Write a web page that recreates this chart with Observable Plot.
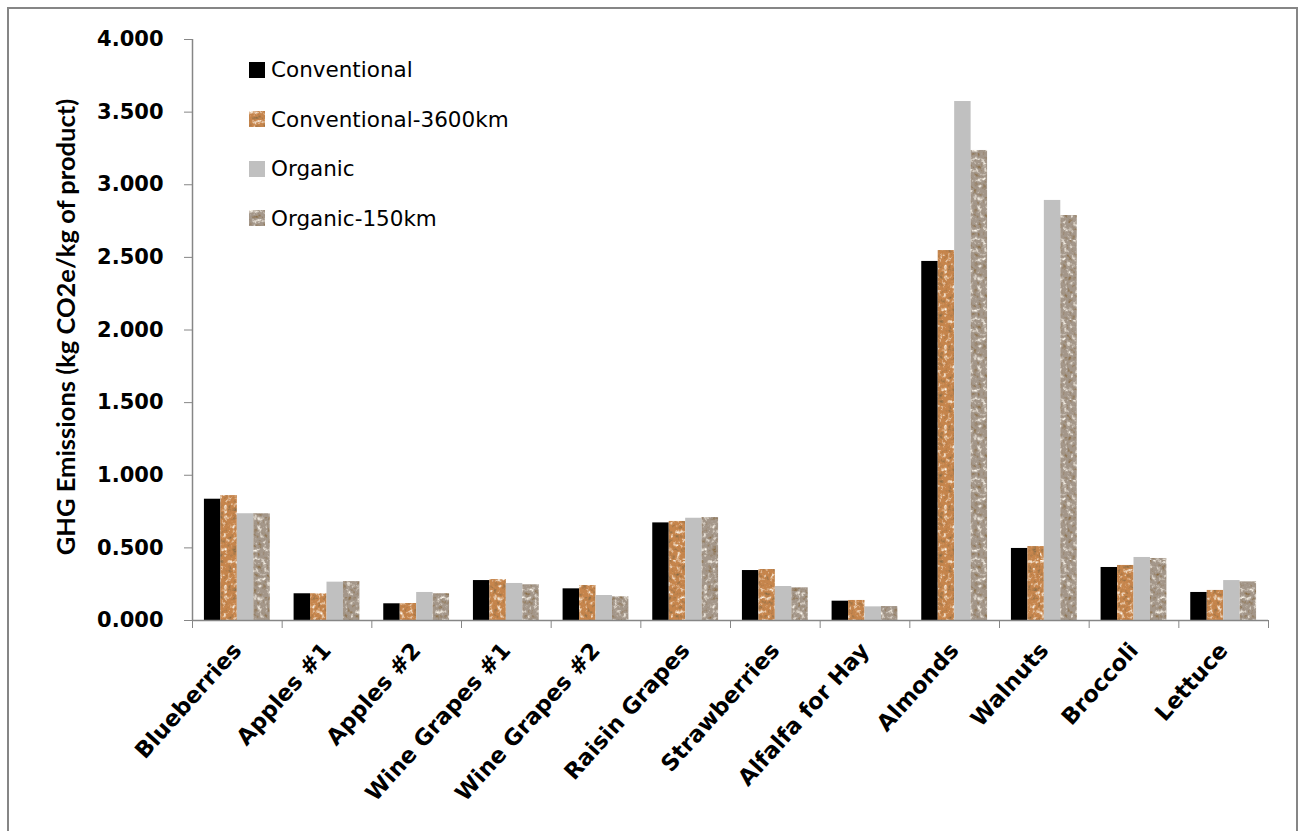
<!DOCTYPE html>
<html>
<head>
<meta charset="utf-8">
<script src="https://cdn.jsdelivr.net/npm/d3@7"></script>
<script src="https://cdn.jsdelivr.net/npm/@observablehq/plot@0.6"></script>
<style>
  html, body { margin: 0; padding: 0; background: #fff; }
  #wrap { position: relative; width: 1299px; height: 831px; overflow: hidden; }
  #border { position: absolute; left: 7px; top: 7px; width: 1287px; height: 840px;
            border-left: 2px solid #868686; border-top: 2px solid #868686; border-right: 2px solid #868686; }
  #legend { position: absolute; left: 249px; top: 45px; font-family: "DejaVu Sans", sans-serif; font-size: 21.5px; color: #000; }
  #legend .row { display: flex; align-items: center; height: 49.5px; margin: 0; }
  #legend svg { margin-right: 6px; }
</style>
</head>
<body>
<svg width="0" height="0" style="position:absolute">
  <defs>
    <filter id="grain" x="0" y="0" width="100%" height="100%">
      <feTurbulence type="fractalNoise" baseFrequency="0.22" numOctaves="3" seed="5" result="n"/>
      <feColorMatrix in="n" type="matrix" values="0 0 0 0 1  0 0 0 0 0.96  0 0 0 0 0.88  3.2 0 0 0 -1.75" result="light"/>
      <feColorMatrix in="n" type="matrix" values="0 0 0 0 0.25  0 0 0 0 0.15  0 0 0 0 0.06  -3.0 0 0 0 1.3" result="dark"/>
      <feMerge><feMergeNode in="light"/><feMergeNode in="dark"/></feMerge>
    </filter>
    <pattern id="pConv3600" patternUnits="userSpaceOnUse" width="80" height="80">
      <rect width="80" height="80" fill="#c6854c"/>
      <rect width="80" height="80" fill="#fff" filter="url(#grain)"/>
    </pattern>
    <pattern id="pOrg150" patternUnits="userSpaceOnUse" width="80" height="80">
      <rect width="80" height="80" fill="#a4978a"/>
      <rect width="80" height="80" fill="#fff" filter="url(#grain)"/>
    </pattern>
  </defs>
</svg>
<div id="wrap">
  <div id="chart"></div>
  <div id="border"></div>
  <div id="legend"></div>
</div>
<script>
// ---- data ----
const categories = ["Blueberries", "Apples #1", "Apples #2", "Wine Grapes #1", "Wine Grapes #2",
  "Raisin Grapes", "Strawberries", "Alfalfa for Hay", "Almonds", "Walnuts", "Broccoli", "Lettuce"];
const series = ["Conventional", "Conventional-3600km", "Organic", "Organic-150km"];
const conventional = [0.835, 0.184, 0.115, 0.275, 0.218, 0.672, 0.344, 0.133, 2.472, 0.496, 0.365, 0.193];
const conventional3600 = [0.860, 0.184, 0.117, 0.282, 0.241, 0.682, 0.351, 0.138, 2.547, 0.509, 0.379, 0.207];
const organic = [0.735, 0.264, 0.193, 0.255, 0.172, 0.704, 0.234, 0.094, 3.573, 2.892, 0.434, 0.275];
const organic150 = [0.735, 0.268, 0.184, 0.246, 0.163, 0.709, 0.225, 0.096, 3.236, 2.788, 0.427, 0.266];
const yTicks = [0, 0.5, 1, 1.5, 2, 2.5, 3, 3.5, 4];
const yLabel = "GHG Emissions (kg CO2e/kg of product)";

// ---- styling ----
const fills = ["#000000", "url(#pConv3600)", "#c0c0c0", "url(#pOrg150)"];
const axisGray = "#868686";
const groupPad = 0.133;               // fraction of a category left empty on each side
const barW = (1 - 2 * groupPad) / series.length;

const values = [conventional, conventional3600, organic, organic150];
const data = categories.flatMap((c, ci) => series.map((s, si) => ({
  category: c, ci, series: s, si, value: values[si][ci]
})));

const chart = Plot.plot({
  width: 1299,
  height: 831,
  marginLeft: 192,
  marginRight: 31,
  marginTop: 39,
  marginBottom: 211,
  style: { fontFamily: "DejaVu Sans, sans-serif", fontWeight: "bold", fontSize: "21px", color: "#000", background: "transparent", overflow: "visible" },
  x: { type: "linear", domain: [0, categories.length] },
  y: { domain: [0, 4] },
  color: { type: "identity" },
  marks: [
    Plot.rectY(data, {
      x1: d => d.ci + groupPad + d.si * barW,
      x2: d => d.ci + groupPad + (d.si + 1) * barW,
      y: "value",
      fill: d => fills[d.si]
    }),
    Plot.ruleY([0], { stroke: axisGray, strokeWidth: 1.5 }),
    Plot.ruleX([0], { stroke: axisGray, strokeWidth: 1.5 }),
    Plot.axisY({ ticks: yTicks, tickFormat: d3.format(".3f"), tickSize: 8, tickPadding: 21, stroke: axisGray, label: null, fontSize: 21 }),
    Plot.axisX({ ticks: d3.range(categories.length + 1), tickFormat: () => "", tickSize: 8, stroke: axisGray, label: null }),
    Plot.axisX({ ticks: d3.range(categories.length).map(i => i + 0.5), tickFormat: t => categories[Math.floor(t)],
      tickSize: 0, tickPadding: 26, tickRotate: -48, label: null, fontSize: 22.5 }),
    Plot.text([yLabel], { frameAnchor: "left", textAnchor: "middle", rotate: -90, dx: -126, dy: -3, fontFamily: "Lato, sans-serif", fontWeight: "bold", fontSize: 25.5, text: d => d })
  ]
});
document.getElementById("chart").appendChild(chart);

// ---- legend ----
const legend = d3.select("#legend");
series.forEach((s, i) => {
  const row = legend.append("div").attr("class", "row");
  const sw = row.append("svg").attr("width", 16).attr("height", 16);
  sw.append("rect").attr("width", 16).attr("height", 16).attr("fill", fills[i]);
  row.append("span").text(s);
});
</script>
</body>
</html>
